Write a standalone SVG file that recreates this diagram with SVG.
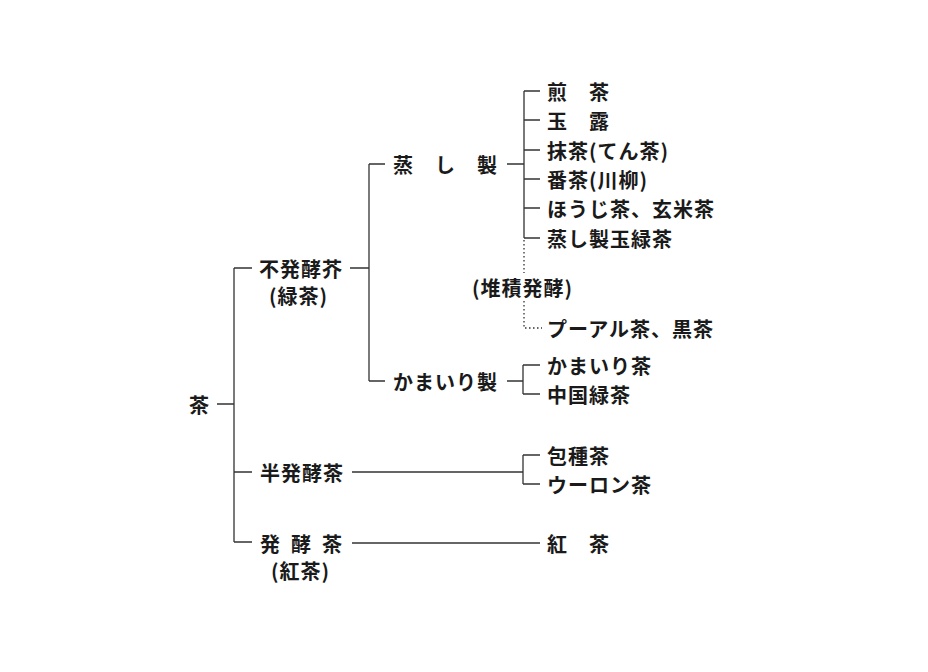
<svg xmlns="http://www.w3.org/2000/svg" width="928" height="672" viewBox="0 0 928 672">
<style>
text{font-family:"Noto Sans CJK JP","Noto Sans",sans-serif;font-size:20px;font-weight:bold;fill:#1a1a1a;letter-spacing:1px;dominant-baseline:central}
.ln{stroke:#333;stroke-width:1.3;fill:none}
.dt{stroke:#333;stroke-width:1.3;fill:none;stroke-dasharray:1.5 2.5}
</style>
<rect width="928" height="672" fill="#fff"/>
<g id="connectors">
<path class="ln" d="M217 404H234M234 268V542M234 268H252M234 472H252M234 542H252"/>
<path class="ln" d="M350 268H369M369 164V381M369 164H385M369 381H385"/>
<path class="ln" d="M507 164H524M524 91V238M524 91H540M524 120H540M524 150H540M524 179H540M524 208H540M524 238H540"/>
<path class="dt" d="M524 240V273M524 301V328H542"/>
<path class="ln" d="M507 381H523M523 365V394M523 365H540M523 394H540"/>
<path class="ln" d="M352 472H523M523 455V484M523 455H540M523 484H540"/>
<path class="ln" d="M352 543H540"/>
</g>
<g id="root"><text x="189" y="404">茶</text></g>
<g id="n-fuhakko"><text x="259" y="268">不発酵芥</text><text x="269" y="295">(緑茶)</text></g>
<g id="n-hanhakko"><text x="260" y="472">半発酵茶</text></g>
<g id="n-hakko"><text x="260 291 322" y="543">発酵茶</text><text x="271" y="570">(紅茶)</text></g>
<g id="n-mushi"><text x="393 435 477" y="164">蒸し製</text></g>
<g id="n-kamairi"><text x="393" y="381">かまいり製</text></g>
<g id="l-sencha"><text x="547 589" y="91">煎茶</text></g>
<g id="l-gyokuro"><text x="547 589" y="120">玉露</text></g>
<g id="l-matcha"><text x="547" y="150">抹茶(てん茶)</text></g>
<g id="l-bancha"><text x="547" y="179">番茶(川柳)</text></g>
<g id="l-houji"><text x="547" y="208">ほうじ茶、玄米茶</text></g>
<g id="l-mushitama"><text x="547" y="238">蒸し製玉緑茶</text></g>
<g id="n-taiseki"><text x="472" y="287">(堆積発酵)</text></g>
<g id="l-puer"><text x="547" y="328">プーアル茶、黒茶</text></g>
<g id="l-kamairicha"><text x="547" y="365">かまいり茶</text></g>
<g id="l-chugoku"><text x="547" y="394">中国緑茶</text></g>
<g id="l-houshu"><text x="547" y="455">包種茶</text></g>
<g id="l-oolong"><text x="547" y="484">ウーロン茶</text></g>
<g id="l-kocha"><text x="547 589" y="543">紅茶</text></g>
</svg>
